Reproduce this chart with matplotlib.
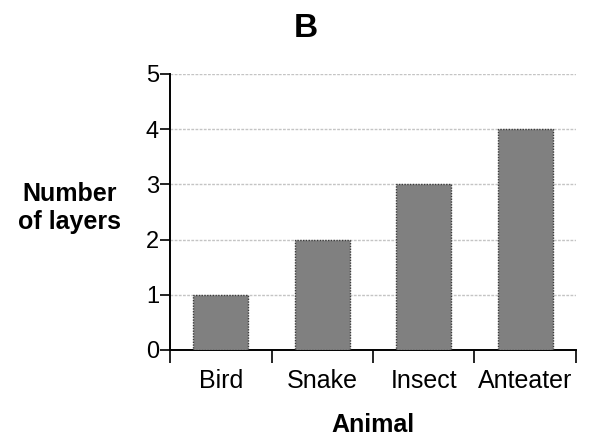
import matplotlib
matplotlib.use("Agg")
import matplotlib.pyplot as plt
import numpy as np

categories = ["Bird", "Snake", "Insect", "Anteater"]
layers = [1, 2, 3, 4]
yticks = [0, 1, 2, 3, 4, 5]

plt.rcParams['font.family'] = ['Liberation Sans', 'DejaVu Sans']

fig = plt.figure(figsize=(5.89, 4.37), dpi=100)
ax = fig.add_axes([170 / 589, 1 - 350 / 437, 406 / 589, 276 / 437])

x = np.arange(len(categories))
ax.bar(x, layers, width=0.54, color="#808080", edgecolor="#3a3a3a",
       linewidth=1.0, linestyle=(0, (1, 1)), zorder=3)

ax.set_xlim(-0.5, len(categories) - 0.5)
ax.set_ylim(0, 5)
ax.set_yticks(yticks)
ax.set_yticklabels([str(v) for v in yticks], fontsize=17)
ax.set_xticks(x)
ax.set_xticklabels(categories, fontsize=18)
ax.tick_params(axis='x', length=0, pad=14)
ax.tick_params(axis='y', length=7, width=1.2, pad=1)
# x ticks at category boundaries
ax.set_xticks(np.arange(-0.5, len(categories)), minor=True)
ax.tick_params(axis='x', which='minor', length=9, width=1.2, direction='out')

for v in yticks[1:]:
    ax.axhline(v, color="#c4c4c4", linewidth=1.0, linestyle=(0, (2, 1)), zorder=1)

for s in ["top", "right"]:
    ax.spines[s].set_visible(False)
ax.spines["left"].set_linewidth(1.4)
ax.spines["bottom"].set_linewidth(1.4)

fig.text(306 / 589, 1 - 37 / 437, "B", fontsize=24, fontweight='bold', ha='center', va='baseline')
fig.text(70 / 589, 1 - 208 / 437, "Number\nof layers", fontsize=18, fontweight='bold',
         ha='center', va='center', linespacing=1.2)
fig.text(373 / 589, 1 - 432 / 437, "Animal", fontsize=18, fontweight='bold', ha='center', va='baseline')

fig.savefig("out.png", dpi=100)
